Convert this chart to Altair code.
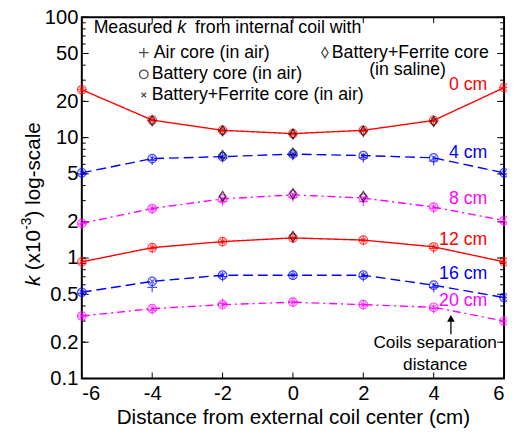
import altair as alt
import pandas as pd

# ---------------- data ----------------
x_cm = [-6, -4, -2, 0, 2, 4, 6]
separations = ["0 cm", "4 cm", "8 cm", "12 cm", "16 cm", "20 cm"]
sep_colors = ["#FF0000", "#0000FF", "#FF00FF", "#FF0000", "#0000FF", "#FF00FF"]

# Battery core (in air)  -- circles, also used for the line
k0_battery = [25.0, 14.0, 11.5, 10.8, 11.5, 13.9, 26.0]
k4_battery = [5.1, 6.7, 6.95, 7.3, 7.1, 6.8, 5.1]
k8_battery = [1.94, 2.58, 3.1, 3.35, 3.15, 2.65, 2.05]
k12_battery = [0.93, 1.22, 1.37, 1.47, 1.41, 1.24, 0.93]
k16_battery = [0.52, 0.64, 0.72, 0.72, 0.72, 0.595, 0.47]
k20_battery = [0.33, 0.38, 0.41, 0.43, 0.41, 0.39, 0.30]

# Air core (in air) -- plus
k0_air = [25.0, 13.9, 11.4, 10.7, 11.4, 13.7, 26.0]
k4_air = [5.0, 6.5, 6.8, 7.1, 6.8, 6.4, 5.0]
k8_air = [1.92, 2.55, 2.95, 3.2, 2.95, 2.6, 2.0]
k12_air = [0.91, 1.2, 1.36, 1.46, 1.4, 1.2, 0.92]
k16_air = [0.51, 0.57, 0.7, 0.72, 0.7, 0.57, 0.47]
k20_air = [0.33, 0.37, 0.42, 0.43, 0.41, 0.38, 0.30]

# Battery + Ferrite core (in air) -- small x
k0_ferrite = [25.0, 14.0, 11.5, 10.8, 11.5, 13.9, 26.0]
k4_ferrite = [5.1, 6.7, 6.95, 7.3, 7.1, 6.8, 5.1]
k8_ferrite = [1.94, 2.58, 3.1, 3.35, 3.15, 2.65, 2.05]
k12_ferrite = [0.93, 1.22, 1.37, 1.47, 1.41, 1.24, 0.93]
k16_ferrite = [0.52, 0.64, 0.72, 0.72, 0.72, 0.595, 0.47]
k20_ferrite = [0.33, 0.38, 0.41, 0.43, 0.41, 0.39, 0.30]

# Battery + Ferrite core (in saline) -- diamonds
saline_sep = ["0 cm", "0 cm", "0 cm", "0 cm", "0 cm", "4 cm", "4 cm", "8 cm", "8 cm", "8 cm", "12 cm"]
saline_x = [-4, -2, 0, 2, 4, -2, 0, -2, 0, 2, 0]
saline_k = [13.8, 11.4, 10.7, 11.3, 13.6, 7.1, 7.45, 3.25, 3.42, 3.25, 1.51]

x_ticks = [-6, -4, -2, 0, 2, 4, 6]
y_labels = [0.1, 0.2, 0.5, 1, 2, 5, 10, 20, 50, 100]
y_minor = [0.1, 0.2, 0.3, 0.4, 0.5, 0.6, 0.7, 0.8, 0.9,
           1, 2, 3, 4, 5, 6, 7, 8, 9,
           10, 20, 30, 40, 50, 60, 70, 80, 90, 100]

# ---------------- tables ----------------
battery = [k0_battery, k4_battery, k8_battery, k12_battery, k16_battery, k20_battery]
air = [k0_air, k4_air, k8_air, k12_air, k16_air, k20_air]
ferrite = [k0_ferrite, k4_ferrite, k8_ferrite, k12_ferrite, k16_ferrite, k20_ferrite]

def long(series_list):
    rows = []
    for sep, vals in zip(separations, series_list):
        for x, k in zip(x_cm, vals):
            rows.append({"x": x, "k": k, "sep": sep})
    return pd.DataFrame(rows)

df_battery = long(battery)
df_air = long(air)
df_ferrite = long(ferrite)
df_saline = pd.DataFrame({"x": saline_x, "k": saline_k, "sep": saline_sep})

FONT = "Liberation Sans"
W, H = 429, 367
TOP = 6

xs = alt.Scale(domain=[-6, 6], nice=False, zero=False)
ys = alt.Scale(type="log", domain=[0.1, 100], nice=False)

X = alt.X("x:Q", scale=xs, axis=alt.Axis(
    values=x_ticks, labelExpr="'' + datum.value",
    title="Distance from external coil center (cm)",
    tickSize=0, domain=False, grid=False, labelFont=FONT, labelFontSize=20.5,
    titleFont=FONT, titleFontSize=21, titleFontWeight="normal",
    labelColor="black", titleColor="black", labelPadding=5, titlePadding=3))
Y = alt.Y("k:Q", scale=ys, axis=alt.Axis(
    values=y_labels, labelExpr="'' + datum.value", title="",
    tickSize=0, domain=False, grid=False, labelFont=FONT, labelFontSize=20.5,
    labelColor="black", labelPadding=4))

col = alt.Color("sep:N", scale=alt.Scale(domain=separations, range=sep_colors), legend=None)
dash = alt.StrokeDash("sep:N", scale=alt.Scale(
    domain=separations,
    range=[[1, 0], [10, 5], [8, 4, 2, 4], [1, 0], [10, 5], [8, 4, 2, 4]]), legend=None)

PLUS = "M-1,0L1,0M0,-1L0,1"
CROSS = "M-1,-1L1,1M-1,1L1,-1"
DIAMOND = "M0,-1L0.62,0L0,1L-0.62,0Z"

lines = alt.Chart(df_battery).mark_line(strokeWidth=1.4).encode(x=X, y=Y, color=col, strokeDash=dash)
circles = alt.Chart(df_battery).mark_point(filled=False, strokeWidth=1.2, shape="circle", size=75).encode(x=X, y=Y, color=col)
pluses = alt.Chart(df_air).mark_point(filled=False, strokeWidth=1.2, shape=PLUS, size=95).encode(x=X, y=Y, color=col)
crosses = alt.Chart(df_ferrite).mark_point(filled=False, strokeWidth=1.2, shape=CROSS, size=20).encode(x=X, y=Y, color=col)
diamonds = alt.Chart(df_saline).mark_point(filled=False, strokeWidth=1.3, shape=DIAMOND, size=105, color="black").encode(x=X, y=Y)

# inside ticks
df_xt = pd.DataFrame({"x": x_ticks})
xt_bottom = alt.Chart(df_xt).mark_rule(color="black", strokeWidth=1).encode(x=X, y=alt.value(H), y2=alt.value(H - 6))
xt_top = alt.Chart(df_xt).mark_rule(color="black", strokeWidth=1).encode(x=X, y=alt.value(0), y2=alt.value(6))
df_ymin = pd.DataFrame({"k": y_minor})
df_ymaj = pd.DataFrame({"k": y_labels})
yt_l = alt.Chart(df_ymin).mark_rule(color="black", strokeWidth=1).encode(y=Y, x=alt.value(0), x2=alt.value(4))
yt_r = alt.Chart(df_ymin).mark_rule(color="black", strokeWidth=1).encode(y=Y, x=alt.value(W), x2=alt.value(W - 4))
yM_l = alt.Chart(df_ymaj).mark_rule(color="black", strokeWidth=1).encode(y=Y, x=alt.value(0), x2=alt.value(7))
yM_r = alt.Chart(df_ymaj).mark_rule(color="black", strokeWidth=1).encode(y=Y, x=alt.value(W), x2=alt.value(W - 7))


def txt(label, x, y, size=18, color="black", align="left", style="normal", angle=0, baseline="middle"):
    kw = dict(font=FONT, fontSize=size, color=color, align=align, baseline=baseline, fontStyle=style)
    if angle:
        kw["angle"] = angle
    return alt.Chart(pd.DataFrame({"t": [label]})).mark_text(**kw).encode(
        text="t:N", x=alt.value(x), y=alt.value(y))


def glyph(shape, x, y, size):
    return alt.Chart(pd.DataFrame({"t": [0]})).mark_point(
        filled=False, strokeWidth=1.3, color="black", shape=shape, size=size).encode(
        x=alt.value(x), y=alt.value(y))

annotations = [
    txt("Measured", 12, 11),
    txt("k", 97, 11, style="italic"),
    txt("from internal coil with", 115, 11),
    glyph(PLUS, 63, 36, 95), txt("Air core (in air)", 73, 36),
    glyph("circle", 63, 58, 75), txt("Battery core (in air)", 71, 58),
    glyph(CROSS, 63, 79, 20), txt("Battery+Ferrite core (in air)", 71, 79),
    glyph(DIAMOND, 247, 36, 110), txt("Battery+Ferrite core", 254, 36),
    txt("(in saline)", 292, 54),
    txt("0 cm", 412, 69, 18, "#FF0000", "right"),
    txt("4 cm", 412, 138, 18, "#0000FF", "right"),
    txt("8 cm", 412, 185, 18, "#FF00FF", "right"),
    txt("12 cm", 412, 226, 18, "#FF0000", "right"),
    txt("16 cm", 412, 261, 18, "#0000FF", "right"),
    txt("20 cm", 412, 288, 18, "#FF00FF", "right"),
    txt("Coils separation", 359, 331, 17.5, align="center"),
    txt("distance", 359, 353, 17.5, align="center"),
    # y title pieces (rotated)
    txt("k", -48, 273, 21, style="italic", angle=270),
    txt("(x10", -48, 257, 21, angle=270),
    txt("-3", -56, 216, 14, angle=270),
    txt(") log-scale", -48, 203.5, 21, angle=270),
]

arrow_shaft = alt.Chart(pd.DataFrame({"t": [0]})).mark_rule(color="black", strokeWidth=1.3).encode(
    x=alt.value(375), y=alt.value(309), y2=alt.value(322))
arrow_head = alt.Chart(pd.DataFrame({"t": [0]})).mark_point(
    filled=True, color="black", shape="triangle-up", size=60, opacity=1).encode(
    x=alt.value(375), y=alt.value(306))

chart = alt.layer(
    xt_bottom, xt_top, yt_l, yt_r, yM_l, yM_r,
    lines, circles, pluses, crosses, diamonds,
    arrow_shaft, arrow_head, *annotations
).properties(
    width=W, height=H,
    autosize=alt.AutoSizeParams(type="none"),
    padding={"left": 75, "top": TOP, "right": 3, "bottom": 50},
    background="white",
).configure_view(stroke="black", strokeWidth=2)

chart.save("out.html", embed_options={"renderer": "svg", "actions": False})
